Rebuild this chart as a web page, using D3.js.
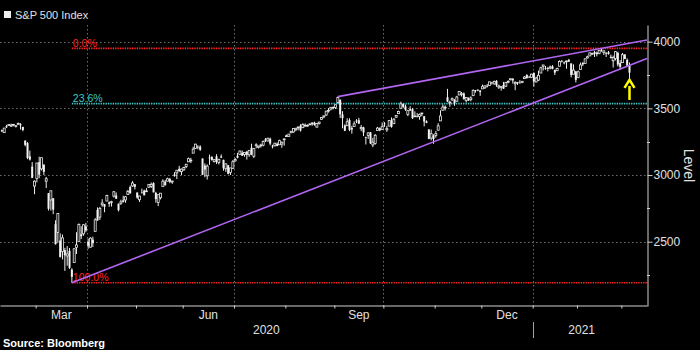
<!DOCTYPE html>
<html><head><meta charset="utf-8">
<script src="https://cdn.jsdelivr.net/npm/d3@7"></script>
<style>html,body{margin:0;padding:0;background:#000;} svg{display:block;}</style>
</head><body>
<svg id="c" width="700" height="350"></svg>
<script>
// ---------- DATA ----------
const seriesName = "S&P 500 Index";
const sourceText = "Source: Bloomberg";
const yAxisTitle = "Level";
const startDate = "2020-02-07";
const endDate = "2021-03-04";
const holidays = ["2020-02-17","2020-04-10","2020-05-25","2020-07-03","2020-09-07","2020-11-26","2020-12-25","2021-01-01","2021-01-18","2021-02-15"];

const opens = [
3336,3318,3366,3371,3366,3378,3369,3380,3380,3361,3258,3239,3140,3063,2917,
2974,3096,3046,3076,2954,2864,2813,2826,2631,2570,2509,2426,2437,2393,2432,2291,2344,2458,2501,2556,2559,2615,
2498,2459,2515,2578,2739,2685,2777,2782,2805,2796,2799,2842,2846,2785,2788,2810,2813,2855,2910,2918,2931,
2869,2815,2869,2883,2878,2909,2915,2940,2866,2795,2830,2914,2949,2954,2970,2948,3004,3016,3047,3025,
3039,3065,3099,3112,3164,3200,3213,3213,3124,3071,2994,3131,3136,3102,3140,3094,3139,3114,3047,3073,3019,3050,
3106,3144,3155,3166,3153,3176,3152,3205,3141,3226,3208,3224,3224,3269,3255,3272,3219,3220,3234,3227,3232,3270,
3288,3290,3317,3323,3340,3356,3370,3355,3373,3369,3381,3387,3393,3360,3386,3418,3436,3450,3485,3495,3510,
3507,3544,3565,3454,3372,3370,3413,3353,3364,3408,3411,3347,3357,3286,3296,3320,3226,3237,3334,3351,3341,
3386,3339,3367,3409,3385,3434,3460,3500,3534,3515,3454,3494,3494,3439,3440,3439,3465,3441,3403,3342,3277,3294,
3296,3336,3406,3486,3508,3583,3543,3563,3563,3553,3600,3610,3612,3559,3579,3567,3595,3636,3639,3634,
3646,3654,3668,3671,3695,3683,3706,3659,3656,3675,3666,3696,3714,3722,3684,3698,3693,3694,3723,3750,3736,3733,
3765,3698,3712,3765,3815,3803,3802,3802,3815,3789,3782,3816,3857,3844,3852,3863,3837,3756,3778,
3731,3792,3840,3837,3878,3893,3910,3921,3916,3912,3940,3919,3916,3921,3886,3857,3874,3916,3840,
3843,3904,3864,3819];

const highs = [
3341,3352,3376,3381,3385,3381,3375,3394,3389,3361,3260,3247,3183,3097,2960,
3091,3137,3131,3083,2986,2864,2883,2826,2661,2711,2563,2554,2454,2467,2453,2301,2450,2571,2637,2616,2632,2641,
2523,2533,2538,2677,2757,2761,2819,2782,2852,2802,2807,2879,2869,2786,2815,2845,2843,2888,2921,2955,2931,
2869,2844,2898,2891,2902,2932,2944,2946,2874,2853,2865,2968,2964,2980,2979,2957,3022,3036,3069,3049,
3062,3081,3131,3129,3212,3233,3223,3223,3124,3088,3080,3153,3141,3120,3156,3121,3155,3115,3086,3074,3054,3112,
3128,3166,3183,3184,3172,3180,3187,3235,3201,3238,3220,3234,3259,3277,3279,3280,3227,3241,3244,3265,3251,3272,
3303,3307,3331,3351,3353,3363,3381,3388,3387,3379,3388,3395,3400,3391,3400,3432,3444,3481,3501,3509,3515,
3528,3588,3565,3479,3380,3425,3426,3369,3403,3419,3429,3375,3362,3286,3320,3323,3279,3307,3361,3358,3394,
3397,3369,3410,3432,3426,3447,3482,3550,3534,3528,3489,3516,3502,3477,3465,3461,3466,3441,3410,3342,3341,3305,
3330,3389,3486,3529,3522,3646,3557,3581,3569,3594,3629,3623,3619,3585,3581,3590,3642,3636,3644,3634,
3678,3671,3683,3699,3697,3708,3712,3678,3666,3698,3695,3711,3725,3727,3703,3698,3711,3704,3741,3756,3745,3760,
3770,3738,3783,3812,3827,3818,3811,3821,3824,3789,3805,3860,3861,3852,3859,3871,3837,3830,3778,
3784,3843,3848,3872,3895,3916,3918,3932,3926,3937,3950,3934,3922,3930,3903,3896,3929,3925,3861,
3915,3906,3874,3844];

const lows = [
3322,3318,3353,3370,3361,3366,3356,3379,3341,3328,3215,3119,3109,2977,2856,
2945,2977,3034,3000,2902,2734,2734,2707,2479,2492,2381,2367,2281,2320,2296,2192,2344,2408,2501,2520,2545,2571,
2447,2456,2460,2575,2658,2663,2762,2721,2805,2762,2764,2831,2820,2727,2776,2794,2792,2853,2861,2912,2892,
2822,2798,2864,2848,2876,2903,2903,2870,2793,2767,2817,2914,2922,2954,2939,2934,2988,2970,3023,2999,
3032,3052,3099,3090,3164,3196,3193,3181,3000,2984,2966,3076,3108,3094,3083,3079,3127,3032,3024,3005,3000,3048,
3101,3125,3155,3143,3137,3116,3136,3149,3128,3201,3199,3206,3215,3248,3253,3223,3200,3214,3216,3227,3204,3220,
3285,3286,3317,3318,3329,3335,3326,3355,3363,3362,3379,3370,3370,3355,3379,3413,3426,3444,3468,3484,3493,
3495,3535,3427,3350,3329,3367,3329,3310,3364,3389,3384,3329,3292,3229,3271,3233,3209,3228,3333,3328,3340,
3361,3324,3367,3355,3385,3428,3458,3500,3501,3481,3441,3480,3420,3436,3433,3415,3440,3365,3389,3269,3260,3234,
3280,3336,3405,3486,3484,3547,3512,3557,3519,3553,3600,3589,3567,3544,3557,3553,3595,3618,3629,3594,
3646,3645,3657,3671,3679,3679,3661,3645,3633,3646,3660,3689,3711,3686,3636,3676,3689,3689,3723,3723,3730,3727,
3663,3695,3705,3765,3784,3789,3777,3792,3793,3750,3780,3816,3845,3830,3797,3848,3732,3756,3694,
3726,3792,3817,3837,3875,3893,3903,3885,3890,3906,3924,3900,3885,3903,3875,3806,3860,3814,3790,
3843,3869,3819,3723];

const closes = [
3328,3352,3358,3379,3374,3380,3370,3386,3373,3338,3226,3128,3116,2979,2954,
3090,3003,3130,3024,2972,2747,2882,2741,2481,2711,2386,2529,2398,2409,2305,2237,2447,2476,2630,2541,2627,2585,
2471,2527,2489,2664,2659,2750,2790,2762,2846,2783,2800,2875,2823,2737,2799,2798,2837,2878,2863,2940,2912,
2831,2843,2868,2848,2881,2930,2930,2870,2820,2853,2864,2954,2923,2972,2949,2955,2992,3036,3030,3044,
3056,3081,3123,3112,3194,3232,3207,3190,3002,3041,3067,3125,3113,3115,3098,3118,3131,3050,3084,3009,3053,3100,
3116,3130,3180,3145,3170,3152,3185,3155,3198,3227,3216,3225,3252,3257,3276,3236,3216,3239,3218,3258,3246,3271,
3295,3307,3328,3349,3351,3360,3334,3380,3373,3373,3382,3390,3375,3386,3397,3431,3444,3479,3485,3508,3500,
3527,3581,3455,3427,3332,3399,3339,3341,3384,3401,3385,3357,3319,3281,3316,3237,3247,3298,3352,3335,3363,
3381,3348,3409,3361,3419,3447,3477,3534,3512,3489,3483,3484,3427,3443,3436,3453,3465,3401,3391,3271,3310,3270,
3310,3369,3443,3510,3509,3551,3546,3573,3537,3585,3627,3610,3568,3582,3558,3578,3635,3630,3638,3622,
3662,3669,3667,3699,3692,3702,3673,3668,3663,3647,3695,3701,3722,3709,3695,3687,3690,3703,3735,3727,3732,3756,
3701,3727,3748,3804,3825,3800,3801,3810,3796,3768,3799,3852,3853,3841,3855,3850,3751,3787,3714,
3774,3826,3830,3872,3887,3916,3911,3910,3916,3935,3933,3931,3914,3907,3877,3881,3925,3829,3811,
3902,3870,3820,3768];

const yTicks = [2500, 3000, 3500, 4000];
const yMinorTicks = [2250, 2750, 3250, 3750];
const labeledMonths = ["Mar", "Jun", "Sep", "Dec"];
const fibRatios = [0, 0.236, 1];
const fibLabels = ["0.0%", "23.6%", "100.0%"];
const fibColors = ["#ff2424", "#3cc8c8", "#ff2424"];
// trend channel anchors [date, value]
const upperLine = [["2020-09-02", 3588], ["2021-02-16", 3950]];
const lowerLine = [["2020-03-23", 2192], ["2021-03-04", 3822]];
const arrowAnnot = {date: "2021-03-04", tip: 3713, tail: 3563};

// ---------- LAYOUT ----------
const W = 700, H = 350;
const plotL = 0, plotR = 647, plotT = 25, plotB = 306;
const svg = d3.select("#c");
svg.append("rect").attr("width", W).attr("height", H).attr("fill", "#000");

const parse = d3.utcParse("%Y-%m-%d"), fmt = d3.utcFormat("%Y-%m-%d");
const hol = new Set(holidays);
const dates = [];
for (let d = parse(startDate); d <= parse(endDate); d = d3.utcDay.offset(d, 1)) {
  const wd = d.getUTCDay();
  if (wd === 0 || wd === 6 || hol.has(fmt(d))) continue;
  dates.push(d);
}
const data = dates.map((d, i) => ({d, i, o: opens[i], h: highs[i], l: lows[i], c: closes[i]}));
const idxOf = s => dates.findIndex(d => fmt(d) === s);

const x = d3.scaleLinear().domain([-0.8, data.length - 1 + 7.5]).range([plotL, plotR]);
const y = d3.scaleLinear().domain([2018, 4125]).range([plotB, plotT]);

// month boundaries
const bounds = [];
for (let i = 1; i < dates.length; i++) {
  if (dates[i].getUTCMonth() !== dates[i - 1].getUTCMonth()) bounds.push({i: i - 0.5, m: dates[i].getUTCMonth(), yr: dates[i].getUTCFullYear()});
}
const monthFmt = d3.utcFormat("%b");

// grid
const grid = svg.append("g");
grid.selectAll("line.h").data(yTicks).join("line")
  .attr("x1", plotL).attr("x2", plotR)
  .attr("y1", d => Math.round(y(d)) + 0.5).attr("y2", d => Math.round(y(d)) + 0.5)
  .attr("stroke", "#6e6e6e").attr("stroke-width", 1).attr("stroke-dasharray", "1.5,2.5");
grid.selectAll("line.v").data(bounds.filter(b => b.m % 3 === 0)).join("line")
  .attr("x1", b => Math.round(x(b.i)) + 0.5).attr("x2", b => Math.round(x(b.i)) + 0.5)
  .attr("y1", plotT).attr("y2", plotB)
  .attr("stroke", "#6e6e6e").attr("stroke-width", 1).attr("stroke-dasharray", "1.5,2.5");

// fib retracement lines
const hi = d3.max(highs), lo = d3.min(lows);
const loIdx = lows.indexOf(lo);
const fib = fibRatios.map((r, k) => ({v: hi - r * (hi - lo), label: fibLabels[k], color: fibColors[k]}));
const fg = svg.append("g");
fib.forEach(f => {
  fg.append("line").attr("x1", x(loIdx)).attr("x2", plotR)
    .attr("y1", y(f.v)).attr("y2", y(f.v))
    .attr("stroke", f.color).attr("stroke-width", 1.6).attr("stroke-dasharray", "1.4,1");
  fg.append("text").attr("x", x(loIdx) + 1).attr("y", y(f.v) - 1.5)
    .attr("fill", f.color).attr("font-family", "Liberation Sans, Arial, sans-serif")
    .attr("font-size", 10.5).text(f.label);
});

// candles
const cg = svg.append("g");
cg.selectAll("line.w").data(data).join("line")
  .attr("x1", d => x(d.i)).attr("x2", d => x(d.i))
  .attr("y1", d => y(d.h)).attr("y2", d => y(d.l))
  .attr("stroke", "#eeeeee").attr("stroke-width", 1);
cg.selectAll("rect").data(data).join("rect")
  .attr("x", d => x(d.i) - 1).attr("width", 2)
  .attr("y", d => y(Math.max(d.o, d.c)))
  .attr("height", d => Math.max(0.8, Math.abs(y(d.o) - y(d.c))))
  .attr("fill", d => d.c >= d.o ? "#000" : "#f2f2f2")
  .attr("stroke", d => d.c >= d.o ? "#e8e8e8" : "none")
  .attr("stroke-width", 0.8);

// trend channel
function channel(pts) {
  const i1 = idxOf(pts[0][0]), i2 = idxOf(pts[1][0]);
  const slope = (pts[1][1] - pts[0][1]) / (i2 - i1);
  const iEnd = x.domain()[1];
  return [[x(i1), y(pts[0][1])], [x(iEnd), y(pts[0][1] + slope * (iEnd - i1))]];
}
[upperLine, lowerLine].forEach(p => {
  const seg = channel(p);
  svg.append("line").attr("x1", seg[0][0]).attr("y1", seg[0][1]).attr("x2", seg[1][0]).attr("y2", seg[1][1])
    .attr("stroke", "#b266f2").attr("stroke-width", 1.6);
});

// arrow
const ax = x(idxOf(arrowAnnot.date)), at = y(arrowAnnot.tip), al = y(arrowAnnot.tail);
svg.append("line").attr("x1", ax).attr("x2", ax).attr("y1", at + 6).attr("y2", al)
  .attr("stroke", "#ffff00").attr("stroke-width", 2.5);
svg.append("path").attr("d", `M${ax - 5},${at + 8} L${ax},${at} L${ax + 5},${at + 8}`)
  .attr("fill", "none").attr("stroke", "#ffff00").attr("stroke-width", 2.5).attr("stroke-linejoin", "miter");

// y axis (right)
const yAxis = svg.append("g").attr("transform", `translate(${plotR + 0.5},0)`)
  .call(d3.axisRight(y).tickValues(yTicks).tickSize(5).tickSizeOuter(0).tickPadding(1).tickFormat(d3.format("d")));
yAxis.select(".domain").attr("stroke", "#d0d0d0");
yAxis.selectAll(".tick line").attr("stroke", "#d0d0d0");
yAxis.selectAll("text").attr("fill", "#e0e0e0").attr("font-family", "Liberation Sans, Arial, sans-serif").attr("font-size", 12);
svg.append("g").selectAll("line").data(yMinorTicks).join("line")
  .attr("x1", plotR).attr("x2", plotR + 3)
  .attr("y1", d => Math.round(y(d)) + 0.5).attr("y2", d => Math.round(y(d)) + 0.5)
  .attr("stroke", "#d0d0d0");

svg.append("text").attr("transform", `translate(684,${(plotT + plotB) / 2}) rotate(90)`)
  .attr("text-anchor", "middle").attr("fill", "#e0e0e0")
  .attr("font-family", "Liberation Sans, Arial, sans-serif").attr("font-size", 14).text(yAxisTitle);

// x axis (bottom)
const xAxis = svg.append("g").attr("transform", `translate(0,${plotB - 0.5})`)
  .call(d3.axisBottom(x).tickValues(bounds.map(b => b.i)).tickSize(3).tickSizeOuter(0).tickFormat(""));
xAxis.select(".domain").attr("stroke", "#d0d0d0");
xAxis.selectAll(".tick line").attr("stroke", "#d0d0d0");

const lab = svg.append("g").attr("fill", "#e0e0e0").attr("font-family", "Liberation Sans, Arial, sans-serif").attr("font-size", 12).attr("text-anchor", "middle");
bounds.forEach((b, k) => {
  const name = monthFmt(new Date(Date.UTC(2000, b.m, 1)));
  if (labeledMonths.includes(name) && k + 1 < bounds.length) {
    lab.append("text").attr("x", (x(b.i) + x(bounds[k + 1].i)) / 2).attr("y", 319).text(name);
  }
});
const janB = bounds.find(b => b.m === 0);
lab.append("text").attr("x", (x.range()[0] + x(janB.i)) / 2).attr("y", 334).text(String(janB.yr - 1));
lab.append("text").attr("x", (x(janB.i) + x(data.length - 0.5)) / 2).attr("y", 334).text(String(janB.yr));
svg.append("line").attr("x1", Math.round(x(janB.i)) + 0.5).attr("x2", Math.round(x(janB.i)) + 0.5)
  .attr("y1", 322).attr("y2", 338).attr("stroke", "#a0a0a0");

// legend + source
svg.append("rect").attr("x", 4).attr("y", 11).attr("width", 7).attr("height", 7).attr("fill", "#eeeeee");
svg.append("text").attr("x", 15).attr("y", 19).attr("fill", "#e0e0e0")
  .attr("font-family", "Liberation Sans, Arial, sans-serif").attr("font-size", 11).text(seriesName);
svg.append("text").attr("x", 3).attr("y", 347).attr("fill", "#ffffff").attr("font-weight", "bold")
  .attr("font-family", "Liberation Sans, Arial, sans-serif").attr("font-size", 11).text(sourceText);
</script>
</body></html>
